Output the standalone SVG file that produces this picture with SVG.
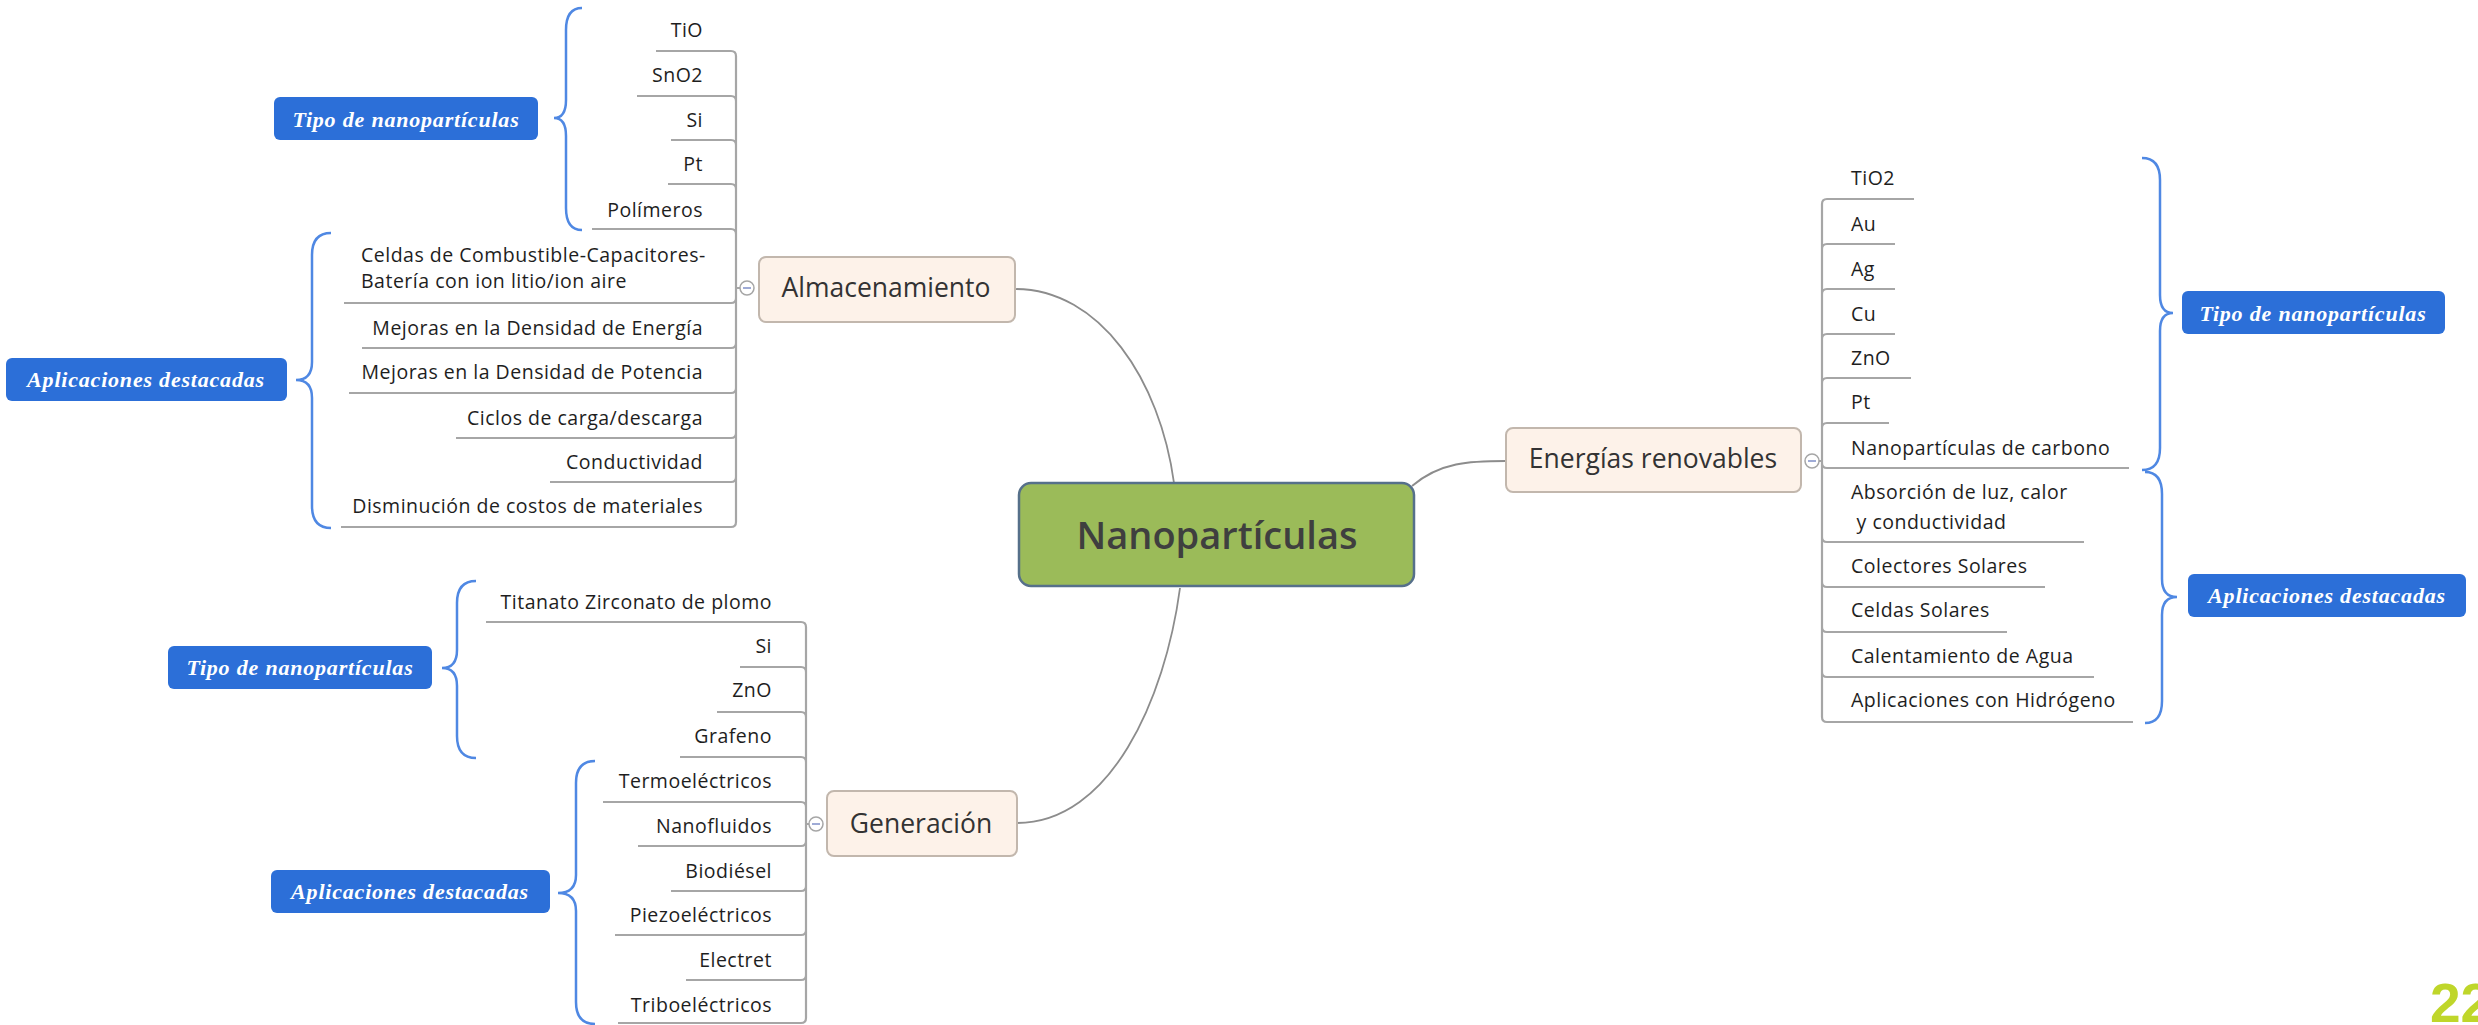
<svg xmlns="http://www.w3.org/2000/svg" width="2478" height="1025" viewBox="0 0 2478 1025">
<style>
.it{font-family:"Open Sans","Noto Sans",sans-serif;font-size:19.5px;letter-spacing:0.5px;fill:#1e1e1e}
.r{text-anchor:end}
.nd{font-family:"Open Sans","Noto Sans",sans-serif;font-size:26.5px;fill:#333;text-anchor:middle}
.ctr{font-size:38px;font-weight:600;fill:#3f3f3f}
.lbl{font-family:"Liberation Serif",serif;font-style:italic;font-weight:bold;font-size:22px;letter-spacing:0.8px;fill:#fff;text-anchor:middle}
.box{fill:#2c6fd8}
.peach{fill:#fdf2e9;stroke:#c2b7ad;stroke-width:2}
.ul{fill:none;stroke:#a6a6a6;stroke-width:2.2}
.br{fill:none;stroke:#4f88e3;stroke-width:2.5}
.con{fill:none;stroke:#8c8c8c;stroke-width:1.8}
.cc{fill:#fff;stroke:#a6a6a6;stroke-width:1.5}
.cm{stroke:#7f8fc8;stroke-width:1.5}
</style>
<rect width="2478" height="1025" fill="#fff"/>

<g id="connectors">
<path class="con" d="M1015,289 C1100,289 1160,380 1174,483"/>
<path class="con" d="M1180,588 C1165,700 1110,823 1017,823"/>
<path class="con" d="M1412,486 C1440,462 1470,461 1506,461"/>
<path class="ul" d="M740,288 H736 M736,288 V56 Q736,51 731,51 H656 M736,288 V101 Q736,96 731,96 H637 M736,288 V145 Q736,140 731,140 H671 M736,288 V189 Q736,184 731,184 H668 M736,288 V234 Q736,229 731,229 H592 M736,288 V298 Q736,303 731,303 H344 M736,288 V343 Q736,348 731,348 H362 M736,288 V388 Q736,393 731,393 H349 M736,288 V433 Q736,438 731,438 H456 M736,288 V477 Q736,482 731,482 H550 M736,288 V522 Q736,527 731,527 H341"/>
<path class="ul" d="M809,824 H806 M806,824 V627 Q806,622 801,622 H486 M806,824 V672 Q806,667 801,667 H740 M806,824 V717 Q806,712 801,712 H717 M806,824 V762 Q806,757 801,757 H680 M806,824 V807 Q806,802 801,802 H603 M806,824 V841 Q806,846 801,846 H638 M806,824 V886 Q806,891 801,891 H671 M806,824 V930 Q806,935 801,935 H615 M806,824 V975 Q806,980 801,980 H686 M806,824 V1018 Q806,1023 801,1023 H618"/>
<path class="ul" d="M1819,461 H1822 M1822,461 V204 Q1822,199 1827,199 H1914 M1822,461 V249 Q1822,244 1827,244 H1895 M1822,461 V294 Q1822,289 1827,289 H1895 M1822,461 V339 Q1822,334 1827,334 H1895 M1822,461 V383 Q1822,378 1827,378 H1911 M1822,461 V428 Q1822,423 1827,423 H1889 M1822,461 V463 Q1822,468 1827,468 H2129 M1822,461 V537 Q1822,542 1827,542 H2084 M1822,461 V582 Q1822,587 1827,587 H2045 M1822,461 V627 Q1822,632 1827,632 H2007 M1822,461 V672 Q1822,677 1827,677 H2094 M1822,461 V717 Q1822,722 1827,722 H2133"/>
<path class="br" d="M582,8 Q566,8 566,30 L566,100 Q566,118 554,118 Q566,118 566,136 L566,208 Q566,230 582,230"/>
<path class="br" d="M331,233 Q312,233 312,255 L312,362 Q312,380 296,380 Q312,380 312,398 L312,506 Q312,528 331,528"/>
<path class="br" d="M476,581 Q457,581 457,603 L457,650 Q457,668 442,668 Q457,668 457,686 L457,736 Q457,758 476,758"/>
<path class="br" d="M595,761 Q576,761 576,783 L576,875 Q576,893 558,893 Q576,893 576,911 L576,1002 Q576,1024 595,1024"/>
<path class="br" d="M2142,158 Q2160,158 2160,180 L2160,295 Q2160,313 2173,313 Q2160,313 2160,331 L2160,448 Q2160,470 2142,470"/>
<path class="br" d="M2145,472 Q2162,472 2162,494 L2162,579 Q2162,597 2177,597 Q2162,597 2162,615 L2162,701 Q2162,723 2145,723"/>
</g>

<g id="central">
<rect x="1019" y="483" width="395" height="103" rx="12" fill="#9bbb59" stroke="#56708a" stroke-width="2.5"/>
<text class="nd ctr" x="1217" y="549">Nanopartículas</text>
</g>

<g id="almacenamiento">
<rect class="peach" x="759" y="257" width="256" height="65" rx="7"/>
<text class="nd" x="886" y="297">Almacenamiento</text>
<circle class="cc" cx="747" cy="288" r="7"/><line class="cm" x1="743" y1="288" x2="751" y2="288"/>
</g>
<g id="generacion">
<rect class="peach" x="827" y="791" width="190" height="65" rx="7"/>
<text class="nd" x="921" y="833">Generación</text>
<circle class="cc" cx="816" cy="824" r="7"/><line class="cm" x1="812" y1="824" x2="820" y2="824"/>
</g>
<g id="energias">
<rect class="peach" x="1506" y="428" width="295" height="64" rx="7"/>
<text class="nd" x="1653" y="468">Energías renovables</text>
<circle class="cc" cx="1812" cy="461" r="7"/><line class="cm" x1="1808" y1="461" x2="1816" y2="461"/>
</g>

<g id="alm-items">
<text class="it r" x="703" y="37">TiO</text>
<text class="it r" x="703" y="82">SnO2</text>
<text class="it r" x="703" y="127">Si</text>
<text class="it r" x="703" y="171">Pt</text>
<text class="it r" x="703" y="217">Polímeros</text>
<text class="it" x="361" y="262">Celdas de Combustible-Capacitores-</text>
<text class="it" x="361" y="288">Batería con ion litio/ion aire</text>
<text class="it r" x="703" y="335">Mejoras en la Densidad de Energía</text>
<text class="it r" x="703" y="379">Mejoras en la Densidad de Potencia</text>
<text class="it r" x="703" y="425">Ciclos de carga/descarga</text>
<text class="it r" x="703" y="469">Conductividad</text>
<text class="it r" x="703" y="513">Disminución de costos de materiales</text>
</g>

<g id="gen-items">
<text class="it r" x="772" y="609">Titanato Zirconato de plomo</text>
<text class="it r" x="772" y="653">Si</text>
<text class="it r" x="772" y="697">ZnO</text>
<text class="it r" x="772" y="743">Grafeno</text>
<text class="it r" x="772" y="788">Termoeléctricos</text>
<text class="it r" x="772" y="833">Nanofluidos</text>
<text class="it r" x="772" y="878">Biodiésel</text>
<text class="it r" x="772" y="922">Piezoeléctricos</text>
<text class="it r" x="772" y="967">Electret</text>
<text class="it r" x="772" y="1012">Triboeléctricos</text>
</g>

<g id="ene-items">
<text class="it" x="1851" y="185">TiO2</text>
<text class="it" x="1851" y="231">Au</text>
<text class="it" x="1851" y="276">Ag</text>
<text class="it" x="1851" y="321">Cu</text>
<text class="it" x="1851" y="365">ZnO</text>
<text class="it" x="1851" y="409">Pt</text>
<text class="it" x="1851" y="455">Nanopartículas de carbono</text>
<text class="it" x="1851" y="499">Absorción de luz, calor</text>
<text class="it" x="1851" y="529" xml:space="preserve"> y conductividad</text>
<text class="it" x="1851" y="573">Colectores Solares</text>
<text class="it" x="1851" y="617">Celdas Solares</text>
<text class="it" x="1851" y="663">Calentamiento de Agua</text>
<text class="it" x="1851" y="707">Aplicaciones con Hidrógeno</text>
</g>

<g id="label-alm-tipo"><rect class="box" x="274" y="97" width="264" height="43" rx="6"/><text class="lbl" x="406" y="127">Tipo de nanopartículas</text></g>
<g id="label-alm-apl"><rect class="box" x="6" y="358" width="281" height="43" rx="6"/><text class="lbl" x="146" y="387">Aplicaciones destacadas</text></g>
<g id="label-gen-tipo"><rect class="box" x="168" y="646" width="264" height="43" rx="6"/><text class="lbl" x="300" y="675">Tipo de nanopartículas</text></g>
<g id="label-gen-apl"><rect class="box" x="271" y="870" width="279" height="43" rx="6"/><text class="lbl" x="410" y="899">Aplicaciones destacadas</text></g>
<g id="label-ene-tipo"><rect class="box" x="2182" y="291" width="263" height="43" rx="6"/><text class="lbl" x="2313" y="321">Tipo de nanopartículas</text></g>
<g id="label-ene-apl"><rect class="box" x="2188" y="574" width="278" height="43" rx="6"/><text class="lbl" x="2327" y="603">Aplicaciones destacadas</text></g>

<text x="2430" y="1022" font-family="Liberation Sans, sans-serif" font-weight="bold" font-size="55" fill="#bfd62a">22</text>
</svg>
